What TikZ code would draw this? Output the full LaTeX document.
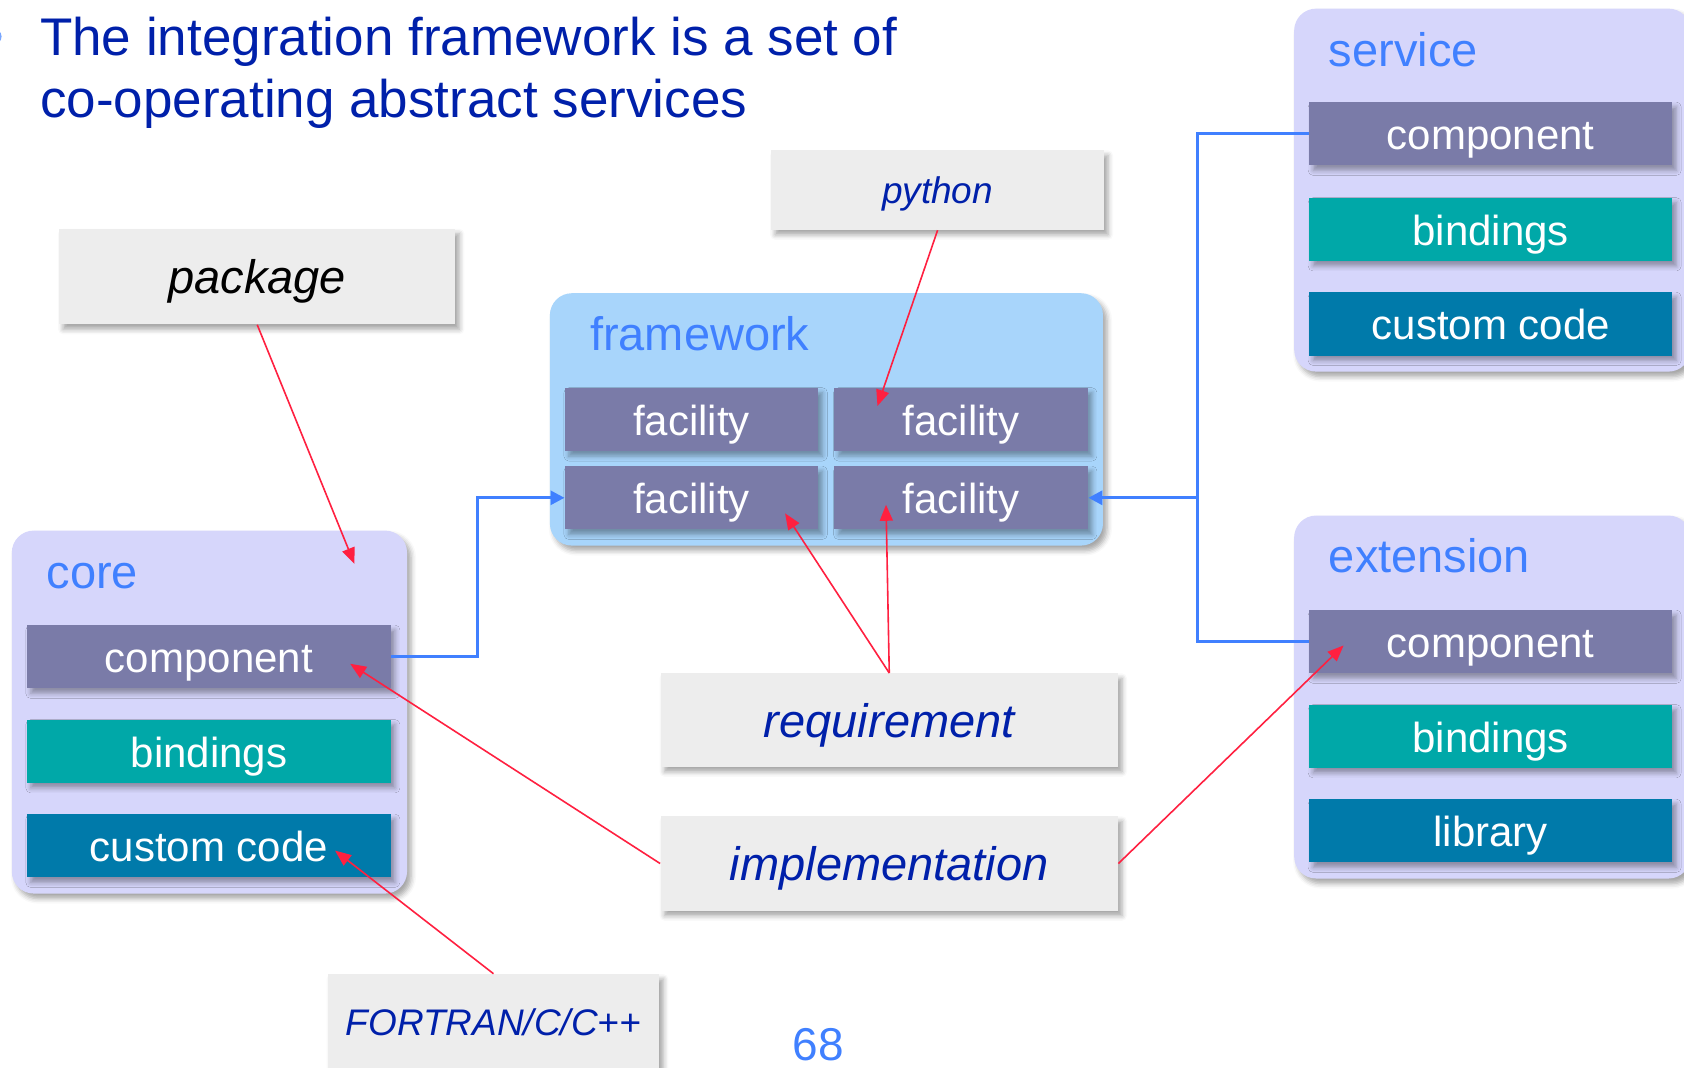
\documentclass[tikz,border=0pt]{standalone}
\usepackage{fontspec}
\setmainfont{Liberation Sans}
\usetikzlibrary{fit,arrows.meta,shadows.blur}

\definecolor{titleblue}{RGB}{0,32,170}
\definecolor{labelblue}{RGB}{64,128,255}
\definecolor{lavender}{RGB}{214,214,251}
\definecolor{fwblue}{RGB}{168,213,251}
\definecolor{compgray}{RGB}{122,123,168}
\definecolor{bindteal}{RGB}{0,168,168}
\definecolor{codeblue}{RGB}{0,122,170}
\definecolor{notegray}{RGB}{237,237,237}
\definecolor{linkred}{RGB}{255,32,64}

\tikzset{
  softshadow/.style={blur shadow={shadow xshift=2pt,shadow yshift=-2.5pt,
      shadow blur radius=2.5pt,shadow opacity=35}},
  % size given in drawing units (1 unit = 0.537pt)
  boxsize/.style 2 args={minimum width=#1*0.537pt,minimum height=#2*0.537pt},
  container/.style={fill=lavender,rounded corners=11pt,inner sep=0pt,softshadow},
  grouplabel/.style={anchor=base west,inner sep=0pt,text=labelblue,
      font=\fontsize{23.5}{28}\selectfont},
  bar/.style={inner sep=0pt,text=white,font=\fontsize{21}{25}\selectfont,
      text height=20.5pt,text depth=4.4pt,softshadow},
  compbar/.style={bar,fill=compgray},
  bindbar/.style={bar,fill=bindteal},
  codebar/.style={bar,fill=codeblue},
  note/.style={fill=notegray,inner sep=0pt,softshadow,text=titleblue,
      font=\itshape\fontsize{23.5}{28}\selectfont,text height=22pt,text depth=5pt},
  smallnote/.style={note,font=\itshape\fontsize{18.5}{22}\selectfont,
      text height=17.2pt,text depth=3.9pt},
  titleline/.style={anchor=base west,inner sep=0pt,text=titleblue,
      font=\fontsize{26.5}{32}\selectfont},
  bluelink/.style={draw=labelblue,line width=1.5pt},
  bluearrow/.style={bluelink,-{Triangle[length=7pt,width=7pt]}},
  redarrow/.style={draw=linkred,line width=0.8pt,-{Triangle[length=8pt,width=6.5pt]}}
}

\begin{document}
\begin{tikzpicture}[x=0.537pt,y=-0.537pt]
\useasboundingbox (0,0) rectangle (1568,994);

% heading
\node[circle,fill=labelblue!70,inner sep=0pt,minimum size=8pt] (bullet) at (-6,34) {};
\node[titleline] (title1) at (37,52) {The integration framework is a set of};
\node[titleline] (title2) at (37,109) {co-operating abstract services};

% group containers
\node[container,fit={(11,494) (379,832)}] (core) {};
\node[container,fill=fwblue,fit={(512,273) (1027,508)}] (fw) {};
\node[container,fit={(1205,8) (1574,346)}] (svc) {};
\node[container,fit={(1205,480) (1574,818)}] (ext) {};

\node[grouplabel] (corelbl) at (43,548) {core};
\node[grouplabel] (fwlbl) at (549,326) {framework};
\node[grouplabel] (svclbl) at (1237,62) {service};
\node[grouplabel] (extlbl) at (1237,533) {extension};

% core parts
\node[compbar,boxsize={339}{59}] (ccomp) at (194.5,611.5) {component};
\node[bindbar,boxsize={339}{59}] (cbind) at (194.5,699.5) {bindings};
\node[codebar,boxsize={339}{59}] (ccode) at (194.5,787.5) {custom code};

% framework facilities
\node[compbar,boxsize={236}{59}] (facTL) at (644,390.5) {facility};
\node[compbar,boxsize={236}{59}] (facTR) at (895,390.5) {facility};
\node[compbar,boxsize={236}{59}] (facBL) at (644,463.5) {facility};
\node[compbar,boxsize={236}{59}] (facBR) at (895,463.5) {facility};

% service parts
\node[compbar,boxsize={338}{59}] (scomp) at (1388,124.5) {component};
\node[bindbar,boxsize={338}{59}] (sbind) at (1388,213.5) {bindings};
\node[codebar,boxsize={338}{59}] (scode) at (1388,301.5) {custom code};

% extension parts
\node[compbar,boxsize={338}{59}] (ecomp) at (1388,597.5) {component};
\node[bindbar,boxsize={338}{59}] (ebind) at (1388,685.5) {bindings};
\node[codebar,boxsize={338}{59}] (elib) at (1388,773.5) {library};

% connections into the framework
\coordinate (leftbus) at (445,0);
\coordinate (rightbus) at (1115,0);
\draw[bluearrow] (ccomp.east) -| (leftbus |- facBL.west) -- (facBL.west);
\draw[bluelink] (scomp.west) -| (rightbus |- ecomp.west) -- (ecomp.west);
\draw[bluearrow] (rightbus |- facBR.east) -- (facBR.east);

% annotation notes
\node[note,text=black,boxsize={369}{89}] (pkg) at (239.5,257.5) {package};
\node[smallnote,boxsize={310}{74}] (py) at (873,177) {python};
\node[note,boxsize={426}{87}] (req) at (828,670.5) {requirement};
\node[note,boxsize={426}{88}] (impl) at (828,804) {implementation};
\node[smallnote,boxsize={309}{90}] (fort) at (459.5,952) {FORTRAN/C/C++};

\node[anchor=base,inner sep=0pt,text=labelblue,font=\fontsize{23}{28}\selectfont]
  (pagenum) at (762,987) {68};

% annotation arrows
\coordinate (pkgtip) at (330,525);
\coordinate (pytip) at (817,378);
\coordinate (reqtipA) at (731,478);
\coordinate (reqtipB) at (825,470);
\coordinate (impltipA) at (326,618);
\coordinate (impltipB) at (1251,601);
\coordinate (forttip) at (312,792);

\draw[redarrow] (pkg.south) -- (pkgtip);
\draw[redarrow] (py.south) -- (pytip);
\draw[redarrow] (req.north) -- (reqtipA);
\draw[redarrow] (req.north) -- (reqtipB);
\draw[redarrow] (impl.west) -- (impltipA);
\draw[redarrow] (impl.east) -- (impltipB);
\draw[redarrow] (fort.north) -- (forttip);
\end{tikzpicture}
\end{document}
